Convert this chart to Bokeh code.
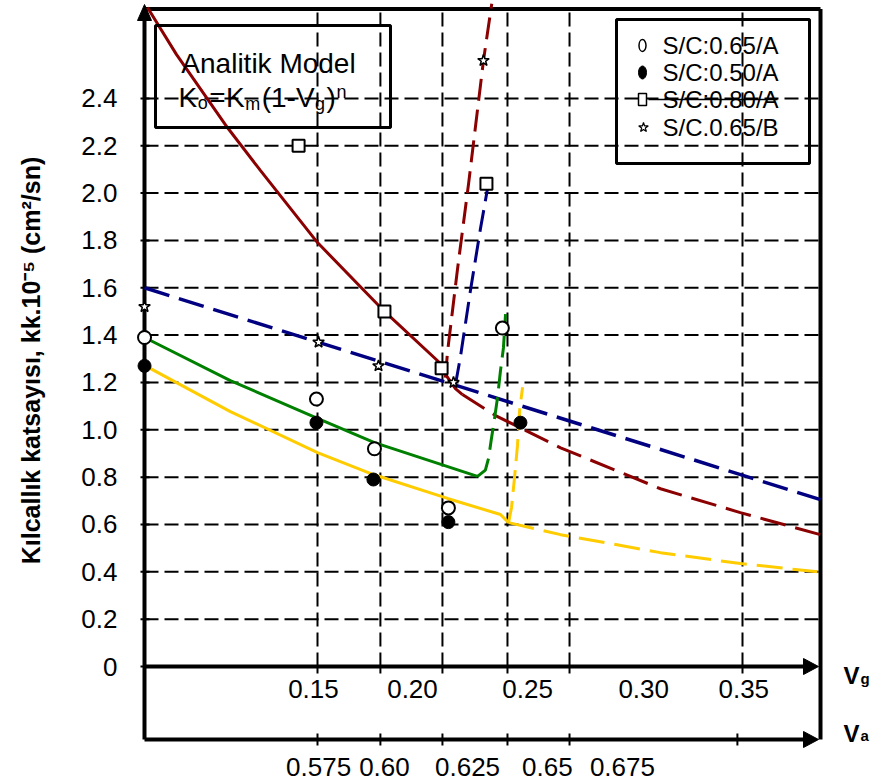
import math
from bokeh.plotting import figure
from bokeh.models import Range1d
from bokeh.core.properties import value
from bokeh.embed import file_html
from bokeh.resources import INLINE

# ---------------- data ----------------
y_ticks = [0.0, 0.2, 0.4, 0.6, 0.8, 1.0, 1.2, 1.4, 1.6, 1.8, 2.0, 2.2, 2.4]
y_tick_labels = ["0", "0.2", "0.4", "0.6", "0.8", "1.0", "1.2", "1.4", "1.6", "1.8", "2.0", "2.2", "2.4"]

# x is measured on the (hand drawn) Vg scale of the figure
vg_ticks = [0.1500, 0.1796, 0.2088, 0.2394, 0.2686, 0.3500]
vg_labels = ["0.15", "0.20", "0.25", "0.30", "0.35"]
vg_label_at = [0.1481, 0.1947, 0.2489, 0.3035, 0.3506]
va_ticks = [0.1500, 0.1796, 0.2088, 0.2394, 0.2686, 0.3476]
va_labels = ["0.575", "0.60", "0.625", "0.65", "0.675"]
va_label_at = [0.1505, 0.1815, 0.2206, 0.2582, 0.2935]

y_title = "Kılcallık katsayısı, kk.10⁻⁵ (cm²/sn)"
series_labels = ["S/C:0.65/A", "S/C:0.50/A", "S/C:0.80/A", "S/C.0.65/B"]

open_x = [0.0686, 0.1495, 0.1768, 0.2116, 0.2370]
open_y = [1.39, 1.13, 0.92, 0.67, 1.43]
filled_x = [0.0686, 0.1495, 0.1763, 0.2116, 0.2455]
filled_y = [1.27, 1.03, 0.79, 0.61, 1.03]
square_x = [0.1411, 0.1815, 0.2084, 0.2295]
square_y = [2.20, 1.50, 1.26, 2.04]
star_x = [0.0686, 0.1505, 0.1787, 0.2140, 0.2281]
star_y = [1.52, 1.37, 1.27, 1.20, 2.56]

red_solid_x = [0.0700, 0.0836, 0.1076, 0.1232, 0.1500, 0.1815, 0.2079, 0.2112, 0.2149, 0.2182]
red_solid_y = [2.784, 2.586, 2.277, 2.095, 1.791, 1.500, 1.280, 1.221, 1.174, 1.149]
red_tail_x = [0.2182, 0.2338, 0.2644, 0.3114, 0.3490, 0.3867]
red_tail_y = [1.149, 1.06, 0.924, 0.751, 0.650, 0.557]
red_steep_x = [0.2102, 0.2112, 0.2159, 0.2211, 0.2281, 0.2320]
red_steep_y = [1.22, 1.33, 1.68, 2.04, 2.56, 2.80]

navy_x = [0.0686, 0.3867]
navy_y = [1.60, 0.705]
navy_steep_x = [0.2149, 0.2173, 0.2220, 0.2267, 0.2314]
navy_steep_y = [1.19, 1.31, 1.59, 1.85, 2.09]

green_x = [0.0686, 0.1090, 0.1500, 0.1768, 0.2253]
green_y = [1.390, 1.208, 1.048, 0.946, 0.803]
green_steep_x = [0.2253, 0.2290, 0.2305, 0.2318, 0.2332, 0.2347, 0.2361, 0.2375, 0.2385]
green_steep_y = [0.803, 0.830, 0.880, 0.960, 1.040, 1.135, 1.249, 1.346, 1.489]

yellow_x = [0.0686, 0.1090, 0.1500, 0.1763, 0.2112, 0.2361, 0.2399]
yellow_y = [1.272, 1.077, 0.904, 0.811, 0.710, 0.642, 0.608]
yellow_steep_x = [0.2399, 0.2413, 0.2427, 0.2441, 0.2451, 0.2465]
yellow_steep_y = [0.608, 0.671, 0.797, 0.932, 1.08, 1.18]
yellow_tail_x = [0.2399, 0.2644, 0.3114, 0.3490, 0.3853]
yellow_tail_y = [0.608, 0.557, 0.481, 0.435, 0.40]

# ---------------- layout helpers (page pixels -> data) ----------------
PXX = 2125.0
PXY = 236.7
W, H = 874, 784


def X(px):
    return 0.15 + (px - 317.0) / PXX


def Y(py):
    return (666.0 - py) / PXY


FONT = value("Liberation Sans")
RED, NAVY, GREEN, GOLD = "#8B0000", "#000080", "#008000", "#FFCC00"

p = figure(width=W, height=H,
           x_range=Range1d(X(0), X(W)), y_range=Range1d(Y(H), Y(0)),
           output_backend="svg", toolbar_location=None, title=None,
           x_axis_location=None, y_axis_location=None,
           min_border_left=0, min_border_right=0, min_border_top=0, min_border_bottom=0)
p.xgrid.visible = False
p.ygrid.visible = False
p.outline_line_color = None
p.background_fill_color = "white"
p.border_fill_color = "white"

# grid lines
gy = y_ticks[1:]
p.segment(x0=[X(144)] * len(gy), x1=[X(820)] * len(gy), y0=gy, y1=gy,
          line_color="black", line_width=2, line_dash="14 6")
p.segment(x0=vg_ticks, x1=vg_ticks, y0=[0] * len(vg_ticks), y1=[Y(8.5)] * len(vg_ticks),
          line_color="black", line_width=2, line_dash="14 6")

# tick marks
p.segment(x0=vg_ticks, x1=vg_ticks, y0=[0] * len(vg_ticks), y1=[Y(673)] * len(vg_ticks),
          line_color="black", line_width=2)
p.segment(x0=va_ticks, x1=va_ticks, y0=[Y(733)] * len(va_ticks), y1=[Y(745)] * len(va_ticks),
          line_color="black", line_width=2)
p.segment(x0=[X(140)] * len(y_ticks), x1=[X(149)] * len(y_ticks), y0=y_ticks, y1=y_ticks,
          line_color="black", line_width=2)

# frame / axes lines
p.segment(x0=[X(144), X(144), X(820), X(144), X(144)],
          y0=[Y(739), Y(8.5), Y(8.5), 0, Y(739)],
          x1=[X(144), X(820), X(820), X(806), X(806)],
          y1=[Y(14), Y(8.5), Y(739), 0, Y(739)],
          line_color="black", line_width=4)
p.patches(xs=[[X(803), X(818), X(803)], [X(803), X(818), X(803)], [X(137), X(144), X(151)]],
          ys=[[Y(658), Y(666), Y(674)], [Y(731), Y(739), Y(747)], [Y(20), Y(4), Y(20)]],
          fill_color="black", line_color="black", line_width=1)

# curves
LW = 3
DASH = "26 10"
p.line(red_solid_x, red_solid_y, line_color=RED, line_width=LW)
p.line(red_tail_x, red_tail_y, line_color=RED, line_width=LW, line_dash=DASH)
p.line(red_steep_x, red_steep_y, line_color=RED, line_width=LW, line_dash="22 9")
p.line(navy_x, navy_y, line_color=NAVY, line_width=LW + 0.5, line_dash=DASH)
p.line(navy_steep_x, navy_steep_y, line_color=NAVY, line_width=LW, line_dash="22 9")
p.line(green_x, green_y, line_color=GREEN, line_width=LW)
p.line(green_steep_x, green_steep_y, line_color=GREEN, line_width=LW, line_dash="22 9")
p.line(yellow_x, yellow_y, line_color=GOLD, line_width=LW)
p.line(yellow_steep_x, yellow_steep_y, line_color=GOLD, line_width=LW, line_dash="22 9")
p.line(yellow_tail_x, yellow_tail_y, line_color=GOLD, line_width=LW, line_dash=DASH)

# markers
p.scatter(open_x, open_y, marker="circle", size=13, fill_color="white", line_color="black", line_width=2)
p.scatter(filled_x, filled_y, marker="circle", size=13, fill_color="black", line_color="black", line_width=1)
p.scatter(square_x, square_y, marker="square", size=12, fill_color="white", line_color="black", line_width=2)
p.scatter(star_x, star_y, marker="star", size=12, fill_color="white", line_color="black", line_width=1.5)

# model annotation box
p.quad(left=[X(155)], right=[X(390)], top=[Y(25)], bottom=[Y(127)],
       fill_alpha=0, line_color="black", line_width=3)
p.text(x=[X(268)], y=[Y(63)], text=["Analitik Model"], text_font=FONT, text_font_size="28px",
       text_align="center", text_baseline="alphabetic", text_color="black")

AW = {"K": 667, "o": 556, "=": 584, "m": 833, "(": 333, "1": 556, "-": 333,
      "V": 667, "g": 556, ")": 333, "n": 556}
pieces = [("K", 28, 0), ("o", 18, 5), ("=", 28, 0), ("K", 28, 0), ("m", 18, 6),
          ("(1-V", 28, 0), ("g", 18, 6), (")", 28, 0), ("n", 18, -6)]
cx = 178.0
fx, fy, ft, fs = [], [], [], []
for s, size, dy in pieces:
    fx.append(X(cx))
    fy.append(Y(97 + dy))
    ft.append(s)
    fs.append("%dpx" % size)
    cx += sum(AW[c] for c in s) / 1000.0 * size + (1.5 if size == 18 else 0.5)
p.text(x=fx, y=fy, text=ft, text_font=FONT, text_font_size=fs,
       text_align="left", text_baseline="alphabetic", text_color="black")

# legend box
p.quad(left=[X(616)], right=[X(809)], top=[Y(19)], bottom=[Y(163)],
       fill_alpha=0, line_color="black", line_width=3)
rows = [Y(45), Y(72), Y(99), Y(127)]
p.segment(x0=[X(648)], x1=[X(777)], y0=[rows[2]], y1=[rows[2]], line_color="black", line_width=1.5)
p.ellipse(x=[X(642)], y=[rows[0]], width=7, height=12, width_units="screen", height_units="screen",
          fill_color="white", line_color="black", line_width=1.5)
p.ellipse(x=[X(642)], y=[rows[1]], width=8, height=13, width_units="screen", height_units="screen",
          fill_color="black", line_color="black", line_width=1)
p.rect(x=[X(642)], y=[rows[2]], width=8, height=12, width_units="screen", height_units="screen",
       fill_color="white", line_color="black", line_width=1.5)
p.scatter(x=[X(643)], y=[rows[3]], marker="star", size=10, fill_color="white", line_color="black", line_width=1.2)
p.text(x=[X(662)] * 4, y=rows, text=series_labels, text_font=FONT, text_font_size="24px",
       text_align="left", text_baseline="middle", text_color="black")

# y tick labels
p.text(x=[X(117)] * len(y_ticks), y=y_ticks, text=y_tick_labels, text_font=FONT, text_font_size="26px",
       text_align="right", text_baseline="middle", text_color="black")

# x tick labels
p.text(x=vg_label_at, y=[Y(688)] * len(vg_labels), text=vg_labels, text_font=FONT, text_font_size="26px",
       text_align="center", text_baseline="middle", text_color="black")
p.text(x=va_label_at, y=[Y(766)] * len(va_labels), text=va_labels, text_font=FONT, text_font_size="26px",
       text_align="center", text_baseline="middle", text_color="black")

# axis titles V_g, V_a
p.text(x=[X(843), X(843)], y=[Y(675), Y(733)], text=["V", "V"], text_font=FONT, text_font_size="24px",
       text_font_style="bold", text_align="left", text_baseline="alphabetic", text_color="black")
p.text(x=[X(860), X(860)], y=[Y(678), Y(735)], text=["g", "a"], text_font=FONT, text_font_size="15px",
       text_font_style="bold", text_align="left", text_baseline="alphabetic", text_color="black")

# y axis title
p.text(x=[X(30)], y=[Y(360)], text=[y_title], angle=math.pi / 2,
       text_font=FONT, text_font_size="25px", text_font_style="bold",
       text_align="center", text_baseline="middle", text_color="black")

open("out.html", "w").write(file_html(p, INLINE))
